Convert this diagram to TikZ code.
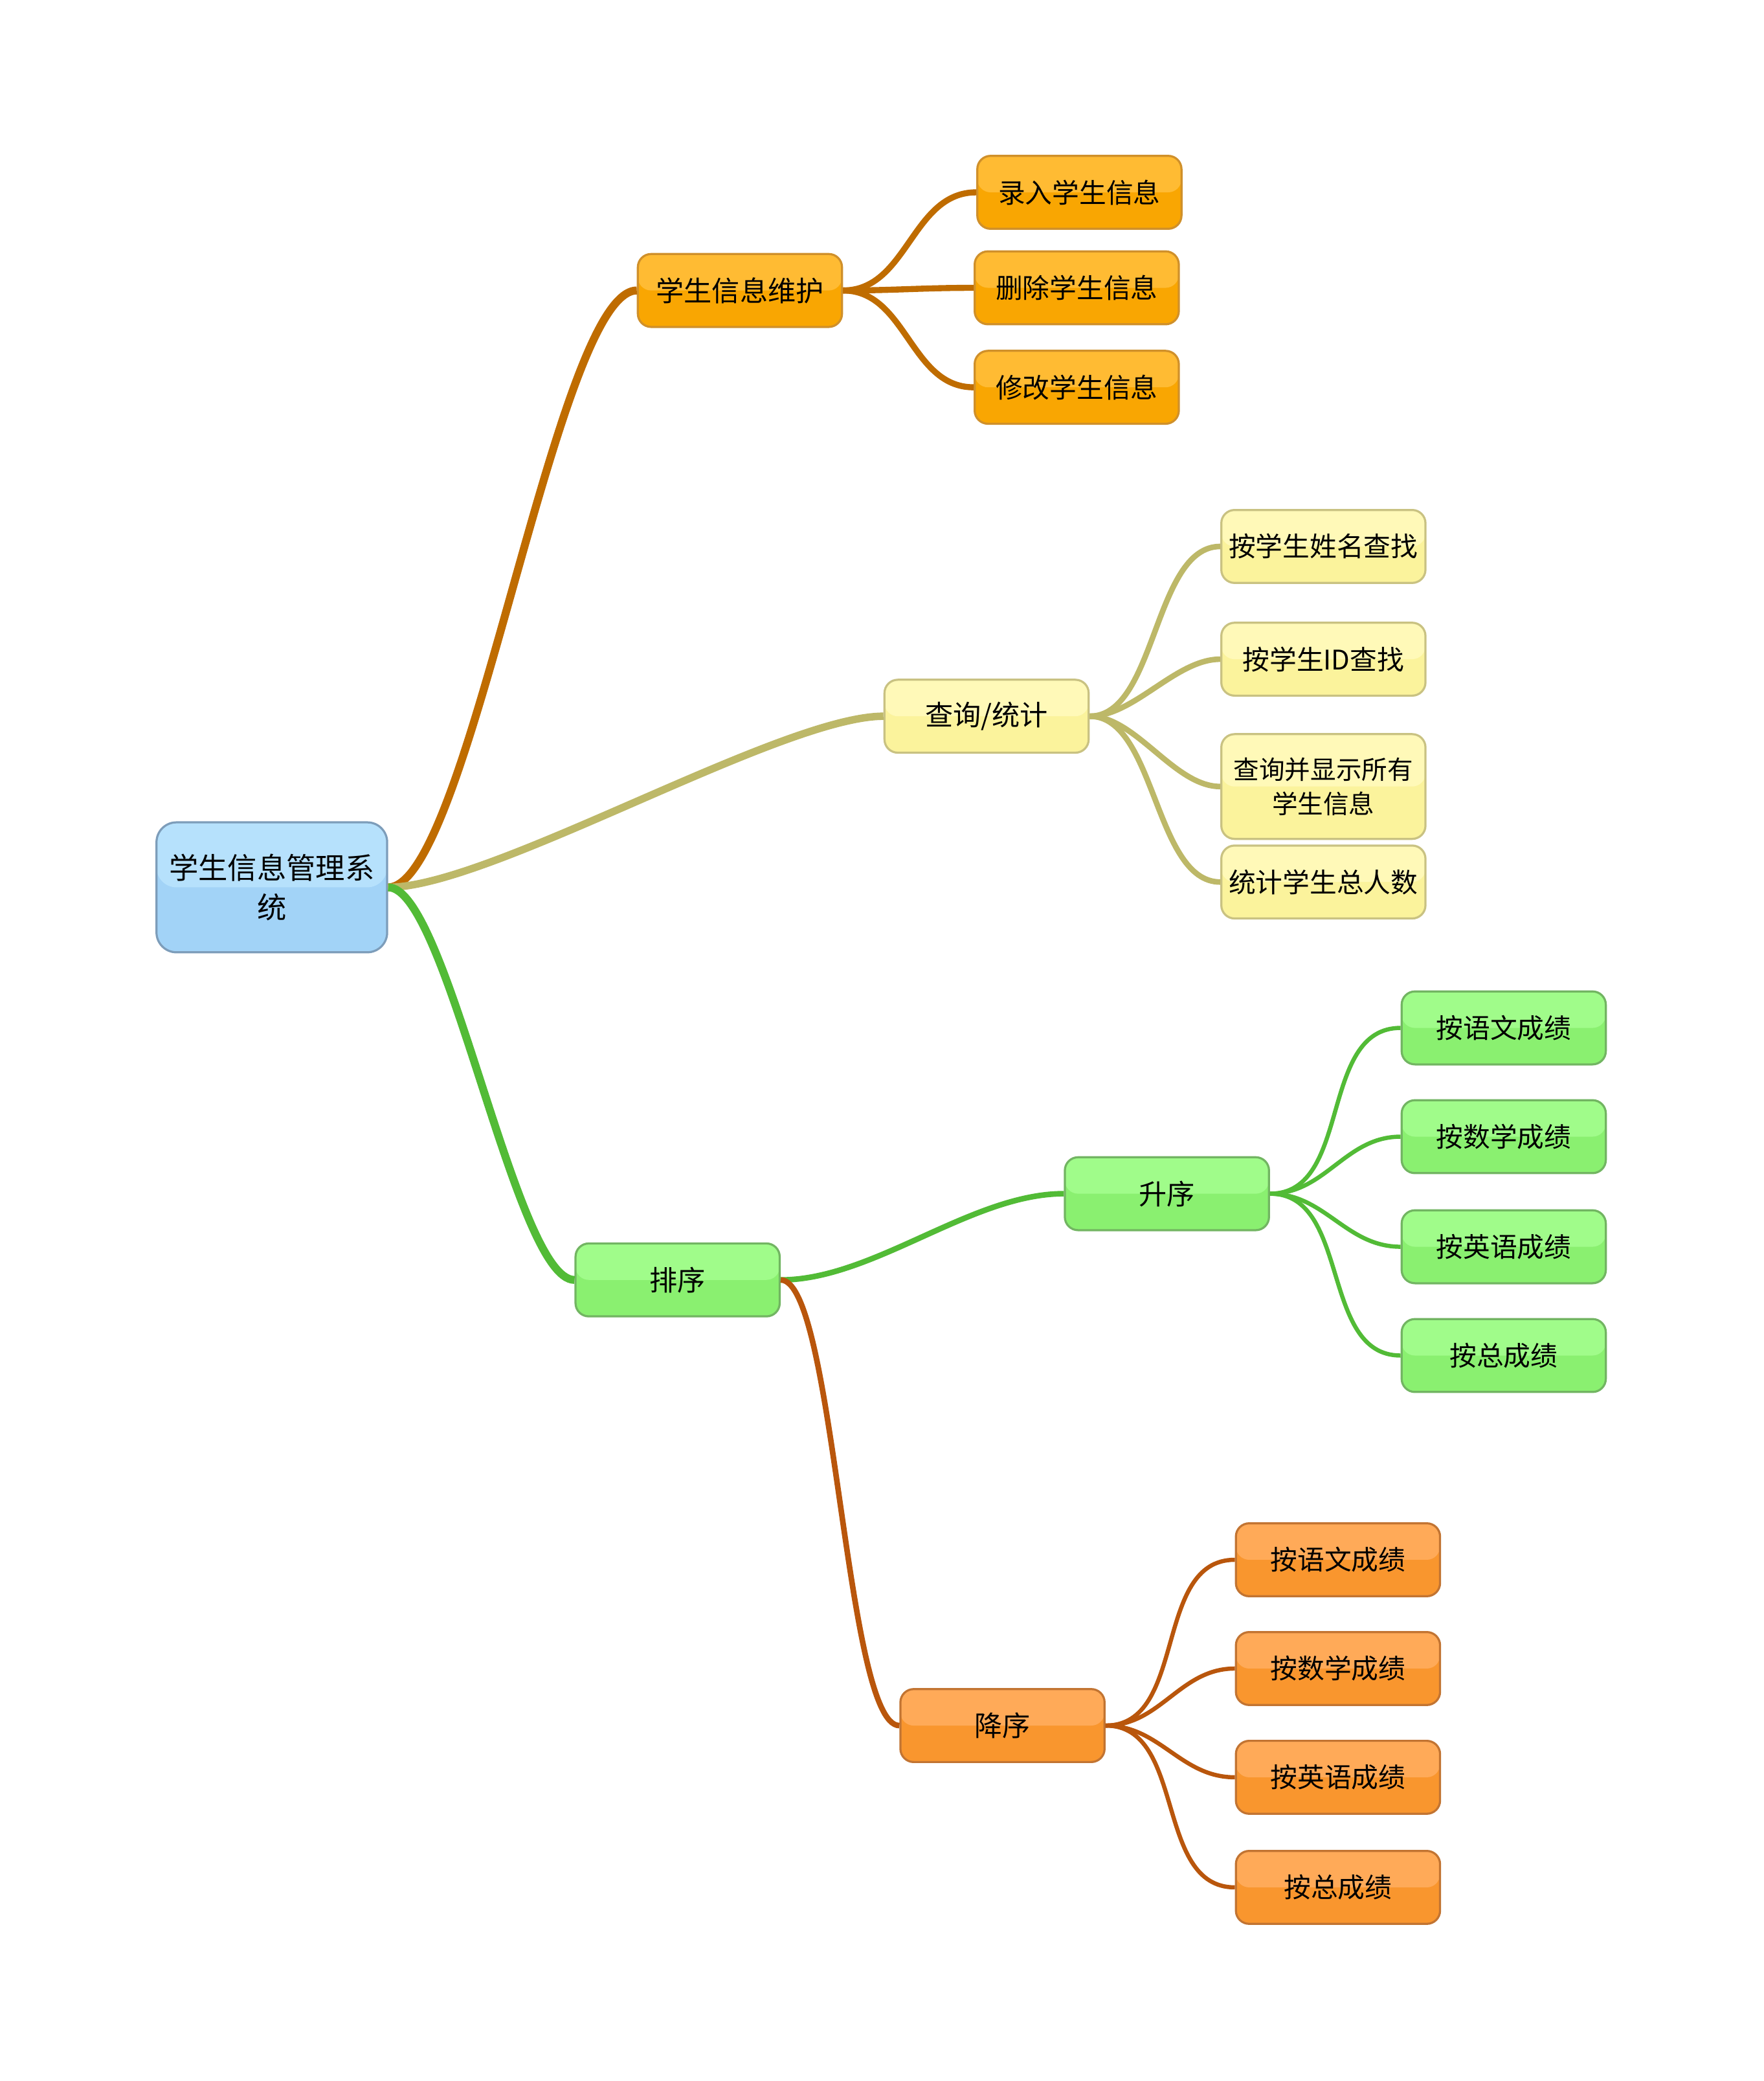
\documentclass[tikz,border=0pt]{standalone}
\usepackage{fontspec}
\newfontfamily\cjk{Noto Sans CJK SC}
\definecolor{bluAlto}{HTML}{B6E1FC}
\definecolor{bluBasso}{HTML}{A2D3F7}
\definecolor{bluBordo}{HTML}{7D9DBA}
\definecolor{aranAlto}{HTML}{FFBB33}
\definecolor{aranBasso}{HTML}{F9A602}
\definecolor{aranBordo}{HTML}{D0902A}
\definecolor{aranLinea}{HTML}{BF6C00}
\definecolor{gialAlto}{HTML}{FFF9B8}
\definecolor{gialBasso}{HTML}{FBF39C}
\definecolor{gialBordo}{HTML}{C9C282}
\definecolor{gialLinea}{HTML}{BDB868}
\definecolor{verdAlto}{HTML}{A0FC8A}
\definecolor{verdBasso}{HTML}{8AF070}
\definecolor{verdBordo}{HTML}{72B562}
\definecolor{verdLinea}{HTML}{52BB36}
\definecolor{rossAlto}{HTML}{FFAA58}
\definecolor{rossBasso}{HTML}{F9962E}
\definecolor{rossBordo}{HTML}{C27432}
\definecolor{rossLinea}{HTML}{B9560C}
\tikzset{
	nodo/.style={rounded corners=0.2cm, draw=#1Bordo, fill=#1Basso, line width=0.9pt,
		minimum width=3.08cm, minimum height=1.1cm, inner sep=2pt, align=center,
		font=\cjk\fontsize{11.6}{14.5}\selectfont,
		path picture={\fill[#1Alto] (path picture bounding box.north west) rectangle (path picture bounding box.east);}},
	ramo/.style={draw=#1Linea},
}
\begin{document}
\begin{tikzpicture}[x=0.02cm, y=-0.02cm]
		\useasboundingbox (0,0) rectangle (1330,1569);
		
		%RADICE
		\node[nodo=blu, rounded corners=0.3cm, minimum width=3.48cm, minimum height=1.96cm,
			font=\cjk\fontsize{12.6}{17}\selectfont] (radice) at (205,669) {学生信息管理系\\统};
		
		%MANUTENZIONE
		\node[nodo=aran, font=\cjk\fontsize{12}{15}\selectfont] (manut) at (558,219) {学生信息维护};
		\node[nodo=aran] (inser) at (814,145) {录入学生信息};
		\node[nodo=aran] (elim) at (812,217) {删除学生信息};
		\node[nodo=aran] (modif) at (812,292) {修改学生信息};
		
		%RICERCA
		\node[nodo=gial, font=\cjk\fontsize{12}{15}\selectfont] (ricerca) at (744,540) {查询/统计};
		\node[nodo=gial] (pernome) at (998,412) {按学生姓名查找};
		\node[nodo=gial] (perid) at (998,497) {按学生ID查找};
		\node[nodo=gial, minimum height=1.58cm, font=\cjk\fontsize{11}{14.7}\selectfont] (tutti) at (998,593) {查询并显示所有\\学生信息};
		\node[nodo=gial] (totale) at (998,665) {统计学生总人数};
		
		%ORDINAMENTO
		\node[nodo=verd, font=\cjk\fontsize{12}{15}\selectfont] (ordina) at (511,965) {排序};
		\node[nodo=verd, font=\cjk\fontsize{12}{15}\selectfont] (cresc) at (880,900) {升序};
		\node[nodo=verd] (cyuwen) at (1134,775) {按语文成绩};
		\node[nodo=verd] (cshuxue) at (1134,857) {按数学成绩};
		\node[nodo=verd] (cyingyu) at (1134,940) {按英语成绩};
		\node[nodo=verd] (czong) at (1134,1022) {按总成绩};
		\node[nodo=ross, font=\cjk\fontsize{12}{15}\selectfont] (decr) at (756,1301) {降序};
		\node[nodo=ross] (dyuwen) at (1009,1176) {按语文成绩};
		\node[nodo=ross] (dshuxue) at (1009,1258) {按数学成绩};
		\node[nodo=ross] (dyingyu) at (1009,1340) {按英语成绩};
		\node[nodo=ross] (dzong) at (1009,1423) {按总成绩};
		
		%RAMI PRINCIPALI
		\draw[ramo=aran, line width=3.4pt] (radice.east) to[out=0, in=180, looseness=0.32] (manut.west);
		\draw[ramo=gial, line width=3.2pt] (radice.east) to[out=0, in=180, looseness=0.5] (ricerca.west);
		\draw[ramo=verd, line width=3.4pt] (radice.east) to[out=0, in=180, looseness=0.35] (ordina.west);
		
		%RAMI SECONDARI
		\draw[ramo=aran, line width=2.6pt] (manut.east) to[out=0, in=180] (inser.west);
		\draw[ramo=aran, line width=2.6pt] (manut.east) to[out=0, in=180] (elim.west);
		\draw[ramo=aran, line width=2.6pt] (manut.east) to[out=0, in=180] (modif.west);
		\draw[ramo=gial, line width=2.4pt] (ricerca.east) to[out=0, in=180, looseness=0.8] (pernome.west);
		\draw[ramo=gial, line width=2.4pt] (ricerca.east) to[out=0, in=180, looseness=0.8] (perid.west);
		\draw[ramo=gial, line width=2.4pt] (ricerca.east) to[out=0, in=180, looseness=0.8] (tutti.west);
		\draw[ramo=gial, line width=2.4pt] (ricerca.east) to[out=0, in=180, looseness=0.8] (totale.west);
		\draw[ramo=verd, line width=2.4pt] (ordina.east) to[out=0, in=180, looseness=0.8] (cresc.west);
		\draw[ramo=ross, line width=2.4pt] (ordina.east) to[out=0, in=180, looseness=0.3] (decr.west);
		
		%FOGLIE
		\foreach \f in {cyuwen, cshuxue, cyingyu, czong}
			\draw[ramo=verd, line width=1.8pt] (cresc.east) to[out=0, in=180] (\f.west);
		\foreach \f in {dyuwen, dshuxue, dyingyu, dzong}
			\draw[ramo=ross, line width=1.8pt] (decr.east) to[out=0, in=180] (\f.west);
	\end{tikzpicture}
\end{document}
